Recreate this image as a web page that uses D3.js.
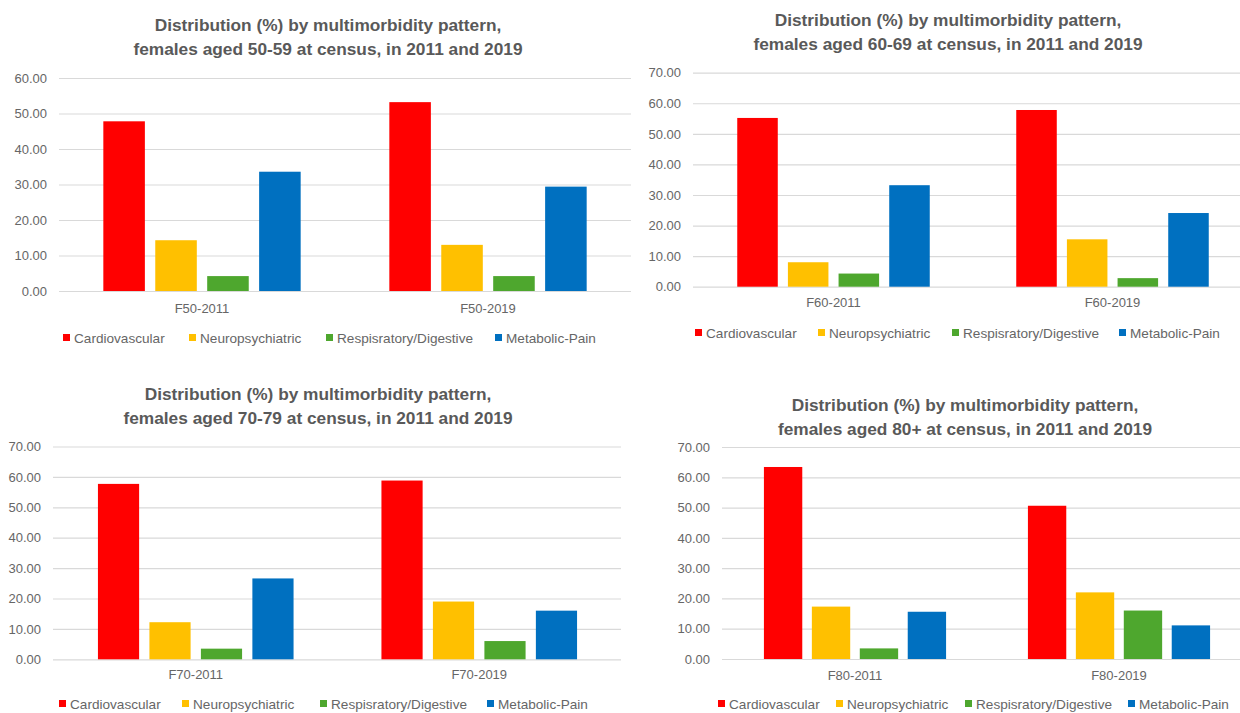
<!DOCTYPE html>
<html>
<head>
<meta charset="utf-8">
<script src="https://cdn.jsdelivr.net/npm/d3@7"></script>
<style>
  html, body { margin: 0; padding: 0; background: #ffffff; }
  svg { display: block; }
</style>
</head>
<body>
<svg id="chart" width="1240" height="713"></svg>
<script>
// Multimorbidity pattern shares (%) for females by age band at census
const categories = ["Cardiovascular", "Neuropsychiatric", "Respisratory/Digestive", "Metabolic-Pain"];
const seriesColors = ["#FF0000", "#FFC000", "#4EA72E", "#0070C0"];
const ageBands = ["50-59", "60-69", "70-79", "80+"];

const groups50 = ["F50-2011", "F50-2019"];
const groups60 = ["F60-2011", "F60-2019"];
const groups70 = ["F70-2011", "F70-2019"];
const groups80 = ["F80-2011", "F80-2019"];

const f50_2011 = [47.8, 14.3, 4.2, 33.6];
const f50_2019 = [53.2, 13.0, 4.2, 29.4];
const f60_2011 = [55.2, 8.0, 4.3, 33.2];
const f60_2019 = [57.8, 15.5, 2.8, 24.1];
const f70_2011 = [57.7, 12.2, 3.5, 26.6];
const f70_2019 = [58.8, 19.0, 6.0, 16.0];
const f80_2011 = [63.4, 17.3, 3.5, 15.6];
const f80_2019 = [50.6, 22.0, 16.0, 11.1];

const yMax50 = 60;
const yMax60 = 70;
const yMax70 = 70;
const yMax80 = 70;

// Panel tables built from the arrays above
const panels = [
  { age: ageBands[0], groups: groups50, values: [f50_2011, f50_2019], yMax: yMax50 },
  { age: ageBands[1], groups: groups60, values: [f60_2011, f60_2019], yMax: yMax60 },
  { age: ageBands[2], groups: groups70, values: [f70_2011, f70_2019], yMax: yMax70 },
  { age: ageBands[3], groups: groups80, values: [f80_2011, f80_2019], yMax: yMax80 }
];

// Placement of each panel on the page
const layout = [
  { gx0: 59,  x0: 59,  x1: 631,  yTop: 78,    yBot: 291,   titleX: 328, titleY: 31,  xLabY: 313, legY: 343,
    legX: [63, 189, 326, 495] },
  { gx0: 693, x0: 694, x1: 1252, yTop: 72.7,  yBot: 286.7, titleX: 948, titleY: 26,  xLabY: 307, legY: 338,
    legX: [695, 818, 952, 1119] },
  { gx0: 53,  x0: 54,  x1: 621,  yTop: 446.5, yBot: 659.3, titleX: 318, titleY: 400, xLabY: 679, legY: 709,
    legX: [59, 182, 320, 487] },
  { gx0: 722, x0: 723, x1: 1251, yTop: 447,   yBot: 659,   titleX: 965, titleY: 411, xLabY: 680, legY: 709,
    legX: [718, 836, 965, 1128] }
];

const svg = d3.select("#chart");
const textColor = "#666666";
const titleColor = "#595959";
const gridColor = "#d9d9d9";
const fontFamily = "'Liberation Sans', Arial, sans-serif";

panels.forEach((p, i) => {
  const L = layout[i];
  const g = svg.append("g");

  const y = d3.scaleLinear().domain([0, p.yMax]).range([L.yBot, L.yTop]);
  const x0 = d3.scaleBand().domain(p.groups).range([L.x0, L.x1])
    .paddingInner(0.31).paddingOuter(0.155);
  const x1 = d3.scaleBand().domain(d3.range(categories.length))
    .range([0, x0.bandwidth()]).paddingInner(0.2);

  // Gridlines and value labels
  const yAxis = d3.axisLeft(y)
    .tickValues(d3.range(0, p.yMax + 1, 10))
    .tickFormat(d3.format(".2f"))
    .tickSize(-(L.x1 - L.gx0))
    .tickPadding(12);
  const ya = g.append("g").attr("transform", `translate(${L.gx0},0)`).call(yAxis);
  ya.select(".domain").remove();
  ya.selectAll("line").attr("stroke", gridColor).attr("stroke-width", 1.2);
  ya.selectAll("text").attr("fill", textColor)
    .style("font-family", fontFamily).style("font-size", "13px");

  // Bars
  p.groups.forEach((grp, gi) => {
    g.append("g")
      .attr("transform", `translate(${x0(grp)},0)`)
      .selectAll("rect")
      .data(p.values[gi])
      .join("rect")
      .attr("x", (d, k) => x1(k))
      .attr("width", x1.bandwidth())
      .attr("y", d => y(d))
      .attr("height", d => y(0) - y(d))
      .attr("fill", (d, k) => seriesColors[k]);
  });

  // Category labels
  const xAxis = d3.axisBottom(x0).tickSize(0).tickPadding(0);
  const xa = g.append("g").attr("transform", `translate(0,${L.xLabY})`).call(xAxis);
  xa.select(".domain").remove();
  xa.selectAll("text").attr("dy", null).attr("y", 0).attr("fill", textColor)
    .style("font-family", fontFamily).style("font-size", "13px");

  // Title
  const title = g.append("text")
    .attr("x", L.titleX).attr("y", L.titleY)
    .attr("text-anchor", "middle")
    .attr("fill", titleColor)
    .style("font-family", fontFamily).style("font-size", "17.3px").style("font-weight", "bold");
  title.append("tspan").attr("x", L.titleX).text("Distribution (%) by multimorbidity pattern,");
  title.append("tspan").attr("x", L.titleX).attr("dy", 23.5)
    .text(`females aged ${p.age} at census, in 2011 and 2019`);

  // Legend
  categories.forEach((c, k) => {
    const lx = L.legX[k];
    g.append("rect")
      .attr("x", lx).attr("y", L.legY - 9)
      .attr("width", 7).attr("height", 7)
      .attr("fill", seriesColors[k]);
    g.append("text")
      .attr("x", lx + 11).attr("y", L.legY)
      .attr("fill", textColor)
      .style("font-family", fontFamily).style("font-size", "13.6px")
      .text(c);
  });
});
</script>
</body>
</html>
